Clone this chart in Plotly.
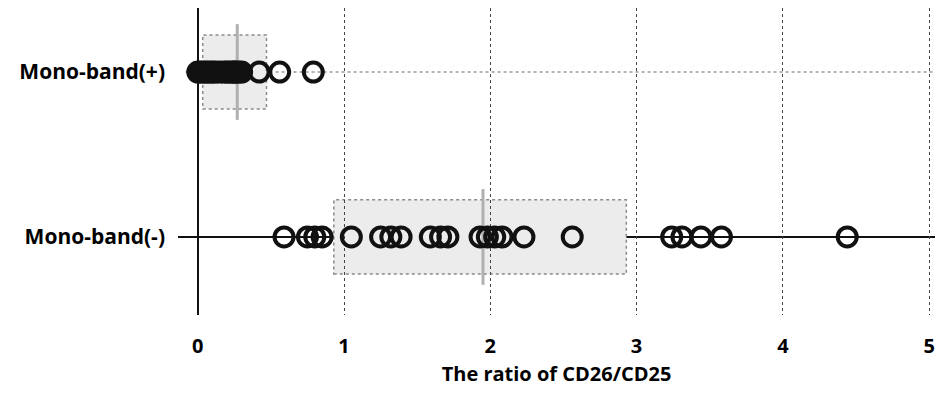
import plotly.graph_objects as go

# ---- data ----
categories = ["Mono-band(-)", "Mono-band(+)"]
row_pos = [0, 1]
pos_values = [0.0, 0.02, 0.04, 0.06, 0.08, 0.10, 0.12, 0.15, 0.18, 0.20, 0.22,
              0.24, 0.25, 0.26, 0.28, 0.30, 0.42, 0.56, 0.79]
neg_values = [0.59, 0.75, 0.80, 0.85, 1.05, 1.25, 1.32, 1.39, 1.59, 1.66, 1.71,
              1.93, 1.98, 2.03, 2.08, 2.23, 2.56, 3.24, 3.31, 3.44, 3.58, 4.44]
box_q1 = [0.93, 0.034]
box_med = [1.95, 0.27]
box_q3 = [2.93, 0.47]
x_ticks = [0, 1, 2, 3, 4, 5]
x_title = "The ratio of CD26/CD25"

FONT = "Open Sans"

fig = go.Figure()

# boxes (q1-q3) and median lines
for i, y in enumerate(row_pos):
    fig.add_shape(type="rect", xref="x", yref="y",
                  x0=box_q1[i], x1=box_q3[i], y0=y - 0.225, y1=y + 0.225,
                  fillcolor="#ececec", line=dict(color="#8a8a8a", width=1.5, dash="dot"),
                  layer="below")
    fig.add_shape(type="line", xref="x", yref="y",
                  x0=box_med[i], x1=box_med[i], y0=y - 0.29, y1=y + 0.29,
                  line=dict(color="#b0b0b0", width=3), layer="below")

# row lines
fig.add_shape(type="line", xref="paper", yref="y", x0=0.01, x1=1, y0=row_pos[1], y1=row_pos[1],
              line=dict(color="#9a9a9a", width=1.5, dash="dot"), layer="below")
fig.add_shape(type="line", xref="paper", yref="y", x0=0, x1=1, y0=row_pos[0], y1=row_pos[0],
              line=dict(color="#111111", width=2), layer="below")

for vals, y in ((neg_values, row_pos[0]), (pos_values, row_pos[1])):
    fig.add_trace(go.Scatter(
        x=vals, y=[y] * len(vals), mode="markers",
        marker=dict(symbol="circle-open", size=19, color="#111111",
                    line=dict(width=4, color="#111111")),
        showlegend=False, hoverinfo="x"))

fig.update_layout(
    width=935, height=394,
    margin=dict(l=178, r=0, t=8, b=79),
    plot_bgcolor="white", paper_bgcolor="white",
    font=dict(family=FONT, color="#111111"),
)
fig.update_xaxes(
    range=[-0.135, 5.04], tickvals=x_ticks, ticktext=[str(t) for t in x_ticks],
    showgrid=True, gridcolor="#444444", griddash="dot", gridwidth=1,
    zeroline=True, zerolinecolor="#111111", zerolinewidth=2,
    showline=False, ticks="", ticklabelstandoff=17, ticklabeloverflow="allow",
    tickfont=dict(family=FONT, size=20, color="#000000", weight="bold"),
    title=dict(text=x_title, font=dict(family=FONT, size=20, color="#000000", weight="bold"),
               standoff=8),
)
fig.update_yaxes(
    range=[-0.473, 1.388], tickvals=row_pos, ticktext=categories,
    showgrid=False, zeroline=False, showline=False, ticks="",
    ticklabelstandoff=12,
    tickfont=dict(family=FONT, size=21, color="#000000", weight="bold"),
)

fig.write_html("out.html")
